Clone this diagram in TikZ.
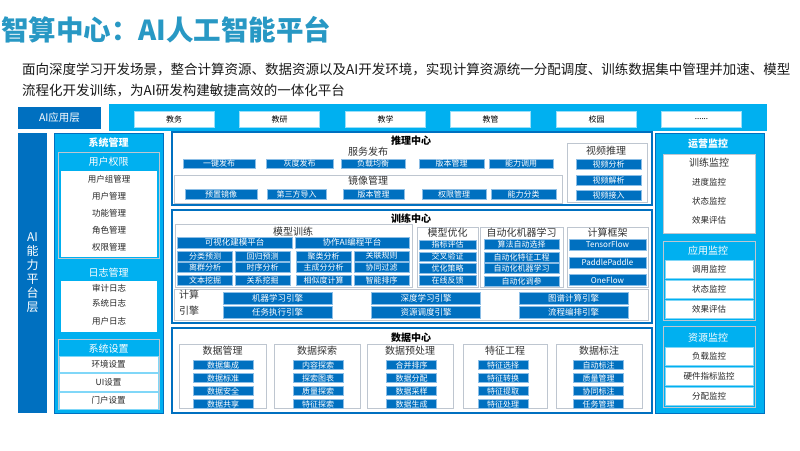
\documentclass[tikz,border=0pt]{standalone}
\usepackage{fontspec}
\setmainfont{Noto Sans CJK SC}
\definecolor{dkblue}{RGB}{0,112,192}
\definecolor{ltblue}{RGB}{0,176,240}
\definecolor{titleblue}{RGB}{40,152,196}
\definecolor{grpgray}{RGB}{190,198,208}
\definecolor{boxedge}{RGB}{140,190,230}

\begin{document}
\begin{tikzpicture}[x=1pt, y=-1pt,
  sz/.style 2 args={minimum width=#1, minimum height=#2},
  frame/.style={draw=dkblue, line width=1.3pt, fill=white, inner sep=0pt},
  grp/.style={draw=grpgray, line width=0.8pt, fill=white, inner sep=0pt},
  blk/.style={draw=boxedge, line width=0.5pt, fill=dkblue, text=white, inner sep=0pt, font=\fontsize{8}{9}\selectfont},
  panel/.style={draw=dkblue, line width=1pt, fill=ltblue, inner sep=0pt},
  sub/.style={draw=grpgray, line width=1pt, fill=ltblue, inner sep=0pt},
  wbox/.style={fill=white, inner sep=0pt},
  wrow/.style={fill=white, draw=ltblue!50, line width=0.5pt, inner sep=0pt, font=\fontsize{8.5}{9}\selectfont, text=black!85},
  hdr/.style={text=white, inner sep=0pt, font=\fontsize{10}{10}\selectfont},
  ttl/.style={text=black, inner sep=0pt, font=\bfseries\fontsize{10}{10}\selectfont},
  lbl/.style={text=black!80, inner sep=0pt, font=\fontsize{10}{10}\selectfont},
  item/.style={text=black!85, inner sep=0pt, font=\fontsize{8.5}{9}\selectfont}
]
\useasboundingbox (0,0) rectangle (800,450);
\fill[white] (0,0) rectangle (800,450);

% title and description
\node[anchor=west, inner sep=0pt, text=titleblue, font=\bfseries\fontsize{27.5}{28}\selectfont] (title) at (1,30) {智算中心：AI人工智能平台};
\node[anchor=west, align=left, inner sep=0pt, text=black!90, font=\fontsize{13.5}{21}\selectfont] (desc) at (22,79.5)
  {面向深度学习开发场景，整合计算资源、数据资源以及AI开发环境，实现计算资源统一分配调度、训练数据集中管理并加速、模型\\流程化开发训练，为AI研发构建敏捷高效的一体化平台};

% AI application layer
\node[fill=dkblue, sz={83}{22}, inner sep=0pt, text=white, font=\fontsize{10.5}{11}\selectfont] (appL) at (59.5,118) {AI应用层};
\node[fill=ltblue, sz={658}{27}, inner sep=0pt] (appBar) at (438,117.5) {};
\foreach \t/\x [count=\i] in {教务/174, 教研/279.5, 教学/385.5, 教管/490.5, 校园/596.5}
  \node[wbox, draw=ltblue!40, sz={80}{16}, font=\fontsize{8}{9}\selectfont] (app\i) at (\x,119) {\t};
\node[wbox, draw=ltblue!40, sz={80}{16}, font=\fontsize{8}{9}\selectfont] (app6) at (701.5,119) {......};

% left: capability layer and system management
\node[fill=dkblue, sz={29}{280}, inner sep=0pt, text=white, align=center, font=\fontsize{12}{14}\selectfont] (capL) at (32.5,273) {AI\\能\\力\\平\\台\\层};
\node[panel, sz={109}{280}] (sysP) at (108.5,273) {};
\node[hdr, font=\bfseries\fontsize{10}{10}\selectfont] (sysT) at (108.5,143) {系统管理};

\node[sub, sz={101}{106}] (permG) at (108.5,205) {};
\node[hdr] (permT) at (108.5,162) {用户权限};
\node[wbox, sz={96}{86}] (permW) at (109,214) {};
\foreach \t [count=\i] in {用户组管理, 用户管理, 功能管理, 角色管理, 权限管理}
  \node[item] (perm\i) at (109,{162+17*\i}) {\t};

\node[hdr] (logT) at (108.5,273) {日志管理};
\node[wbox, sz={96}{51}] (logW) at (109,306.5) {};
\foreach \t/\y [count=\i] in {审计日志/288, 系统日志/303, 用户日志/321}
  \node[item] (log\i) at (109,\y) {\t};

\node[sub, sz={101}{70}] (setG) at (108.5,374) {};
\node[hdr] (setT) at (108.5,349) {系统设置};
\foreach \t/\y/\h [count=\i] in {环境设置/364/16, UI设置/382/18, 门户设置/400.5/17}
  \node[wrow, sz={99}{\h}] (set\i) at (108.5,\y) {\t};

% inference center
\node[frame, sz={480}{73}] (infF) at (412,168.5) {};
\node[ttl] (infT) at (411,141) {推理中心};
\node[lbl] (pubT) at (368,152) {服务发布};
\foreach \t/\x/\w [count=\i] in {一键发布/219/72, 灰度发布/299.5/67, 负载均衡/373/64, 版本管理/451.5/65, 能力调用/521/64}
  \node[blk, sz={\w}{9}] (pub\i) at (\x,163.5) {\t};
\node[grp, sz={388}{28}] (imgG) at (368,189) {};
\node[lbl] (imgT) at (368,181) {镜像管理};
\foreach \t/\x/\w [count=\i] in {预置镜像/221/72, 第三方导入/296.5/59, 版本管理/373.5/61, 权限管理/454/64, 能力分类/523.5/65}
  \node[blk, sz={\w}{10}] (img\i) at (\x,194) {\t};
\node[grp, sz={80}{59}] (vidG) at (607,172.5) {};
\node[lbl] (vidT) at (606,151) {视频推理};
\foreach \t/\y [count=\i] in {视频分析/164.5, 视频解析/180, 视频接入/195}
  \node[blk, sz={65}{10}] (vid\i) at (608.5,\y) {\t};

% training center
\node[frame, sz={480}{113}] (trnF) at (412,266.5) {};
\node[ttl] (trnT) at (411,219) {训练中心};
\node[grp, sz={237}{63}] (mtG) at (293.5,255.5) {};
\node[lbl] (mtT) at (293,232) {模型训练};
\node[blk, sz={115}{11}, font=\fontsize{8.5}{9}\selectfont] (mtV) at (234.5,242.5) {可视化建模平台};
\node[blk, sz={114}{11}, font=\fontsize{8.5}{9}\selectfont] (mtC) at (352,242.5) {协作AI编程平台};
\foreach \t/\x [count=\i] in {分类预测/205, 回归预测/262.5, 聚类分析/323.5, 关联规则/381.5}
  \node[blk, sz={55}{10}] (mtA\i) at (\x,256) {\t};
\foreach \t/\x [count=\i] in {离群分析/205, 时序分析/262.5, 主成分分析/323.5, 协同过滤/381.5}
  \node[blk, sz={55}{10}] (mtB\i) at (\x,267.5) {\t};
\foreach \t/\x [count=\i] in {文本挖掘/205, 关系挖掘/262.5, 相似度计算/323.5, 智能排序/381.5}
  \node[blk, sz={55}{10}] (mtC\i) at (\x,280) {\t};

\node[grp, sz={61}{60}] (moG) at (447.5,257) {};
\node[lbl] (moT) at (447.5,233) {模型优化};
\foreach \t/\y [count=\i] in {指标评估/244.5, 交叉验证/256.5, 优化策略/268, 在线反馈/280}
  \node[blk, sz={57}{9.5}] (mo\i) at (447.5,\y) {\t};

\node[grp, sz={83}{60}] (amlG) at (521.5,257) {};
\node[lbl] (amlT) at (521.5,233) {自动化机器学习};
\foreach \t/\y [count=\i] in {算法自动选择/244, 自动化特征工程/257, 自动化机器学习/268.5, 自动化调参/281}
  \node[blk, sz={75}{10}] (aml\i) at (521.5,\y) {\t};

\node[grp, sz={81}{60}] (cfG) at (607.5,257) {};
\node[lbl] (cfT) at (607.5,233) {计算框架};
\foreach \t/\y [count=\i] in {TensorFlow/244.5, PaddlePaddle/262.5, OneFlow/280}
  \node[blk, sz={77}{11}] (cf\i) at (607.5,\y) {\t};

\node[grp, sz={474}{31}] (engG) at (411,304.5) {};
\node[lbl, align=center, font=\fontsize{10}{16}\selectfont] (engT) at (189,303) {计算\\引擎};
\foreach \t/\x [count=\i] in {机器学习引擎/277.5, 深度学习引擎/426, 图谱计算引擎/573.5}
  \node[blk, sz={109}{12}, font=\fontsize{8.5}{9}\selectfont] (engA\i) at (\x,298) {\t};
\foreach \t/\x [count=\i] in {任务执行引擎/277.5, 资源调度引擎/426, 流程编排引擎/573.5}
  \node[blk, sz={109}{12}, font=\fontsize{8.5}{9}\selectfont] (engB\i) at (\x,312) {\t};

% data center
\node[frame, sz={480}{85}] (datF) at (412,370.5) {};
\node[ttl] (datT) at (411,338) {数据中心};
\foreach \t/\x/\w [count=\i] in {数据管理/222.5/87, 数据探索/317/86, 数据预处理/410/86, 特征工程/505/84, 数据标注/599/86}
{
  \node[grp, sz={\w}{64}] (dg\i) at (\x,376) {};
  \node[lbl] (dgT\i) at (\x,351) {\t};
}
\foreach \t [count=\i] in {数据集成, 数据标准, 数据安全, 数据共享}
  \node[blk, sz={60}{9}] (dm\i) at (223,{352+13*\i}) {\t};
\foreach \t [count=\i] in {内容探索, 探索图表, 质量探索, 特征探索}
  \node[blk, sz={50}{9}] (de\i) at (318,{352+13*\i}) {\t};
\foreach \t [count=\i] in {合并排序, 数据分配, 数据采样, 数据生成}
  \node[blk, sz={50}{9}] (dp\i) at (411.5,{352+13*\i}) {\t};
\foreach \t [count=\i] in {特征选择, 特征转换, 特征提取, 特征处理}
  \node[blk, sz={50}{9}] (fe\i) at (503,{352+13*\i}) {\t};
\foreach \t [count=\i] in {自动标注, 质量管理, 协同标注, 任务管理}
  \node[blk, sz={50}{9}] (dl\i) at (598.5,{352+13*\i}) {\t};

% right: operation monitoring
\node[panel, sz={109}{280}] (opsP) at (709.5,273) {};
\node[hdr, font=\bfseries\fontsize{10}{10}\selectfont] (opsT) at (708,144) {运营监控};
\node[wbox, draw=grpgray, sz={92}{79}] (trmW) at (709,193.5) {};
\node[lbl] (trmT) at (709,163) {训练监控};
\foreach \t [count=\i] in {进度监控, 状态监控, 效果评估}
  \node[item] (trm\i) at (709,{163+19*\i}) {\t};

\node[sub, sz={92}{79}] (amG) at (709,280.5) {};
\node[hdr] (amT) at (708,251) {应用监控};
\foreach \t/\y [count=\i] in {调用监控/269, 状态监控/289, 效果评估/309}
  \node[wrow, sz={88}{18}] (am\i) at (709,\y) {\t};

\node[sub, sz={92}{81}] (rmG) at (709,366.5) {};
\node[hdr] (rmT) at (708,338) {资源监控};
\foreach \t/\y [count=\i] in {负载监控/356.5, 硬件指标监控/376, 分配监控/396}
  \node[wrow, sz={88}{18}] (rm\i) at (709,\y) {\t};
\end{tikzpicture}
\end{document}
